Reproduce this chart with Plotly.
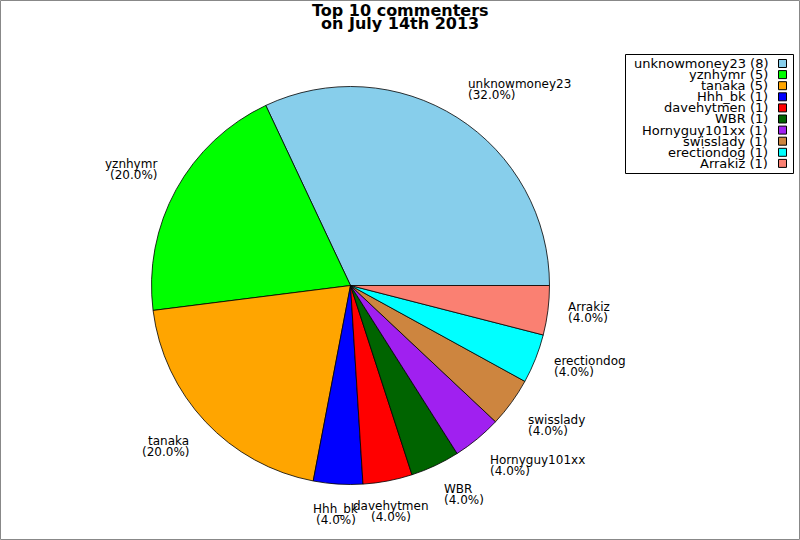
import math

import plotly.graph_objs as go

# top commenters and their comment counts
users = ["unknowmoney23", "yznhymr", "tanaka", "Hhh_bk", "davehytmen",
         "WBR", "Hornyguy101xx", "swisslady", "erectiondog", "Arrakiz"]
counts = [8, 5, 5, 1, 1, 1, 1, 1, 1, 1]
colors = ["#87CEEB", "#00FF00", "#FFA500", "#0000FF", "#FF0000",
          "#006400", "#A020F0", "#CD853F", "#00FFFF", "#FA8072"]
title_lines = ["Top 10 commenters", "on July 14th 2013"]

W, H = 800, 540
CX, CY, R = 350.5, 285.5, 199  # pie centre / radius in pixels
FONT = "DejaVu Sans"


def px(x):
    return x / W


def py(y):
    return 1 - y / H


total = sum(counts)

fig = go.Figure(go.Pie(
    labels=users, values=counts, sort=False,
    # plotly puts the first slice's far edge at `rotation` when going ccw,
    # so back it off by the first slice so it starts at 3 o'clock
    direction="counterclockwise", rotation=90 - 360 * counts[0] / total,
    marker=dict(colors=colors, line=dict(color="black", width=0.8)),
    textinfo="none", hoverinfo="label+value+percent", showlegend=False,
    domain=dict(x=[px(CX - R), px(CX + R)], y=[py(CY + R), py(CY - R)]),
))

annotations = []
shapes = []

# slice labels, placed at 1.1 r with compass-style anchoring
anchors = [("left", 0), ("left", 1), ("center", 1), ("right", 1),
           ("right", 0), ("right", -1), ("center", -1), ("left", -1)]
start = 0.0
for name, c in zip(users, counts):
    frac = c / total
    mid = (start + frac / 2) * 360
    start += frac
    a = math.radians(mid)
    lx = CX + 1.1 * R * math.cos(a)
    ly = CY - 1.1 * R * math.sin(a)
    xa, va = anchors[int(round(mid / 45)) % 8]
    if va == 1:
        shifts = [16.5, 5.5]
    elif va == -1:
        shifts = [-5.5, -16.5]
    else:
        shifts = [5.5, -5.5]
    for txt, s in zip([name, f"({frac * 100:.1f}%)"], shifts):
        annotations.append(dict(
            x=px(lx - 1), y=py(ly), xref="paper", yref="paper", text=txt,
            showarrow=False, xanchor=xa, yanchor="middle", yshift=s,
            font=dict(family=FONT, size=12, color="black"), borderpad=0,
        ))

# title, two tight lines
for i, t in enumerate(title_lines):
    annotations.append(dict(
        x=px(400), y=py(10.5 + 13.5 * i), xref="paper", yref="paper",
        text=f"<b>{t}</b>", showarrow=False, xanchor="center", yanchor="middle",
        font=dict(family=FONT, size=16, color="black"), borderpad=0,
    ))

# legend box: right-aligned text, colour square on the right
shapes.append(dict(type="rect", xref="paper", yref="paper",
                   x0=px(625.5), x1=px(793.5), y0=py(173.5), y1=py(54.5),
                   line=dict(color="black", width=1), fillcolor="white"))
for i, (name, c, col) in enumerate(zip(users, counts, colors)):
    yc = 63.5 + 11.1 * i
    annotations.append(dict(
        x=px(768.5), y=py(yc), xref="paper", yref="paper", text=f"{name} ({c})",
        showarrow=False, xanchor="right", yanchor="middle", borderpad=0,
        font=dict(family=FONT, size=13, color="black"),
    ))
    shapes.append(dict(type="rect", xref="paper", yref="paper",
                       x0=px(778.5), x1=px(786.5), y0=py(yc + 4), y1=py(yc - 4),
                       line=dict(color="black", width=1), fillcolor=col))

# grey frame round the whole image
shapes.append(dict(type="rect", xref="paper", yref="paper",
                   x0=px(0.5), x1=px(799.5), y0=py(539.5), y1=py(0.5),
                   line=dict(color="#888888", width=1)))

fig.update_layout(
    width=W, height=H, margin=dict(l=0, r=0, t=0, b=0),
    paper_bgcolor="white", plot_bgcolor="white",
    annotations=annotations, shapes=shapes,
)

# drop the default 8px body margin so the figure sits at the window corner
fig.write_html("out.html", config={"displayModeBar": False},
               post_script="document.body.style.margin = '0';")
